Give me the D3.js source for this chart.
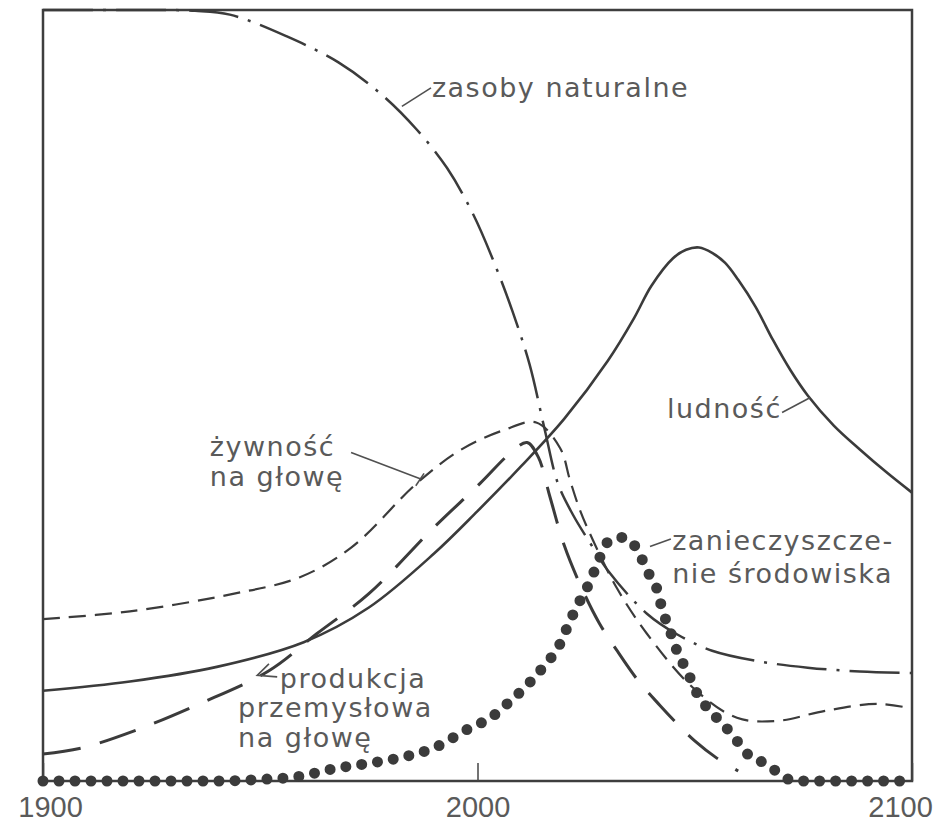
<!DOCTYPE html>
<html lang="pl">
<head>
<meta charset="utf-8">
<title>Model świata</title>
<script src="https://cdn.jsdelivr.net/npm/d3@7"></script>
<style>
body { margin: 0; background: #fff; }
.frame { fill: none; stroke: #3e3e3e; stroke-width: 2.5; }
.curve { fill: none; stroke: #3b3b3b; }
.label { font-family: "DejaVu Sans", sans-serif; font-size: 27px; fill: #5a5a5a; letter-spacing: 1.5px; }
.leader { fill: none; stroke: #505050; stroke-width: 1.6; }
.axis text { font-family: "Liberation Sans", Arial, sans-serif; font-size: 29px; fill: #5a5a5a; }
.axis line { stroke: #444; stroke-width: 1.5; }
</style>
</head>
<body>
<script>
// values: [year, relative level 0-100]
var tickYears = [1900, 2000, 2100];

var zasoby = [[1900, 100], [1920, 100], [1935, 99.9], [1943, 99.4], [1956, 96.6], [1968, 93.2],
    [1978, 89.0], [1986, 84.5], [1993, 79.5], [1999, 73.5], [2004, 67.0], [2008, 61.0],
    [2012, 54.0], [2015.5, 45.5], [2018.5, 38.6], [2022, 34.5], [2026, 30.8], [2030, 27.3],
    [2039, 21.7], [2046, 19.0], [2054, 16.9], [2065, 15.5], [2076, 14.7], [2088, 14.2], [2100, 14.0]];

var ludnosc = [[1900, 11.7], [1920, 12.9], [1940, 14.8], [1960, 18.0], [1975, 22.5], [1990, 29.5],
    [2000, 35.0], [2010, 40.8], [2020, 47.0], [2030, 54.5], [2036, 60.0], [2040, 64.2],
    [2045, 67.8], [2048, 68.9], [2051, 69.2], [2054, 68.5], [2057, 67.2], [2060, 65.0],
    [2064, 61.5], [2068, 57.2], [2072, 53.3], [2076, 50.0], [2082, 46.1], [2088, 43.0],
    [2094, 40.1], [2100, 37.4]];

var zywnosc = [[1900, 21.0], [1920, 22.0], [1944, 24.3], [1959, 26.4], [1971, 30.3], [1986, 38.6],
    [1996, 42.9], [2006, 45.5], [2013.5, 46.5], [2019, 43.2], [2021.3, 39.0], [2023.6, 35.1],
    [2026.6, 31.2], [2032, 25.1], [2039, 19.1], [2049.6, 12.1], [2059.7, 8.2], [2069, 7.8],
    [2080, 9.1], [2092, 10.0], [2100, 9.4]];

var produkcja = [[1900, 3.5], [1909, 4.3], [1921, 6.5], [1936, 10.0], [1952, 14.3], [1963, 19.1],
    [1975, 24.3], [1990, 32.9], [2000.6, 38.6], [2007.5, 42.5], [2011.4, 43.9], [2014, 42.0],
    [2016.7, 36.8], [2020, 30.5], [2024, 25.0], [2028, 20.5], [2032, 17.0], [2037, 13.0],
    [2042, 9.8], [2046, 7.4], [2050, 5.2], [2055, 3.0], [2060, 1.3]];

var zanieczyszczenie = [[1900, 0], [1920, 0], [1940, 0], [1950, 0.2], [1959, 0.6], [1967, 1.6],
    [1975, 2.3], [1982, 3.0], [1990, 4.3], [1998, 6.8], [2003, 8.2], [2007, 10.1], [2010.5, 11.9],
    [2015, 14.7], [2019, 17.8], [2021.3, 20.8], [2023.6, 23.4], [2026, 26.0], [2028, 28.8],
    [2030, 31.0], [2033.5, 31.6], [2037, 29.8], [2039, 27.3], [2041.3, 24.9], [2042.6, 22.1],
    [2044.3, 19.5], [2046.1, 16.6], [2048.2, 14.3], [2050.5, 11.4], [2053, 9.4], [2056.5, 7.4],
    [2059.3, 5.5], [2062.7, 3.2], [2066.6, 2.2], [2069.6, 0.9], [2073, 0], [2085, 0], [2100, 0]];

// label texts
var txtZasoby = ["zasoby naturalne"];
var txtLudnosc = ["ludność"];
var txtZywnosc = ["żywność", "na głowę"];
var txtProdukcja = ["produkcja", "przemysłowa", "na głowę"];
var txtZanieczyszczenie = ["zanieczyszcze-", "nie środowiska"];

var w = 943, h = 826;

var x = d3.scaleLinear().domain([1900, 2100]).range([43, 912]);
var y = d3.scaleLinear().domain([0, 100]).range([781, 10]);

var svg = d3.select('body').append('svg')
    .attr('width', w)
    .attr('height', h);

function lineWith(curve) {
    return d3.line()
        .x(function(d) { return x(d[0]); })
        .y(function(d) { return y(d[1]); })
        .curve(curve);
}
var smooth = lineWith(d3.curveCatmullRom.alpha(0.5));
var mono = lineWith(d3.curveMonotoneX);

// frame
svg.append('rect')
    .attr('class', 'frame')
    .attr('x', x(1900))
    .attr('y', y(100))
    .attr('width', x(2100) - x(1900))
    .attr('height', y(0) - y(100));

// bottom axis, ticks point inward
var xAxis = d3.axisBottom(x)
    .tickValues(tickYears)
    .tickFormat(d3.format('d'))
    .tickSizeInner(-18)
    .tickSizeOuter(0)
    .tickPadding(15);

var gx = svg.append('g')
    .attr('class', 'axis')
    .attr('transform', 'translate(0,' + y(0) + ')')
    .call(xAxis);
gx.select('.domain').remove();
gx.selectAll('text').attr('dx', function(d) { return d === 1900 ? 7 : d === 2100 ? -12 : 0; });

// curves
var series = [
    { data: zasoby, width: 2.5, dash: '50,10,3,10', cap: 'butt', gen: smooth },
    { data: ludnosc, width: 2.6, dash: null, cap: 'butt', gen: smooth },
    { data: zywnosc, width: 2.2, dash: '17,9', cap: 'butt', gen: smooth },
    { data: produkcja, width: 3, dash: '38,20', cap: 'butt', gen: smooth },
    { data: zanieczyszczenie, width: 11, dash: '0,16', cap: 'round', gen: mono }
];

svg.selectAll('path.curve')
    .data(series)
    .enter()
    .append('path')
    .attr('class', 'curve')
    .attr('d', function(d) { return d.gen(d.data); })
    .attr('stroke-width', function(d) { return d.width; })
    .attr('stroke-dasharray', function(d) { return d.dash; })
    .attr('stroke-linecap', function(d) { return d.cap; });

// labels (positions in data units)
function label(lines, yr, val, lineGap, indent) {
    var t = svg.append('text')
        .attr('class', 'label')
        .attr('x', x(yr))
        .attr('y', y(val));
    lines.forEach(function(s, i) {
        t.append('tspan')
            .attr('x', x(yr) - (i > 0 ? indent : 0))
            .attr('dy', i === 0 ? 0 : lineGap)
            .text(s);
    });
}

function leader(pts) {
    svg.append('path')
        .attr('class', 'leader')
        .attr('d', lineWith(d3.curveLinear)(pts));
}

label(txtZasoby, 1989.5, 88.7, 0, 0);
leader([[1989.3, 89.9], [1982.6, 87.5]]);

label(txtLudnosc, 2043.6, 47.1, 0, 0);
leader([[2070.1, 47.8], [2076.5, 49.7]]);

label(txtZywnosc, 1938.4, 42.2, 30, 0);
leader([[1970.9, 42.6], [1986.8, 39.2]]);
leader([[1985.8, 38.3], [1987.7, 39.9]]);

label(txtProdukcja, 1954.5, 12.1, 29.5, x(1954.5) - x(1944.9));
leader([[1953.9, 13.5], [1949.3, 13.7], [1952.0, 15.2]]);

label(txtZanieczyszczenie, 2044.8, 29.9, 33, 0);
leader([[2039.7, 30.4], [2044.5, 31.4]]);
</script>
</body>
</html>
